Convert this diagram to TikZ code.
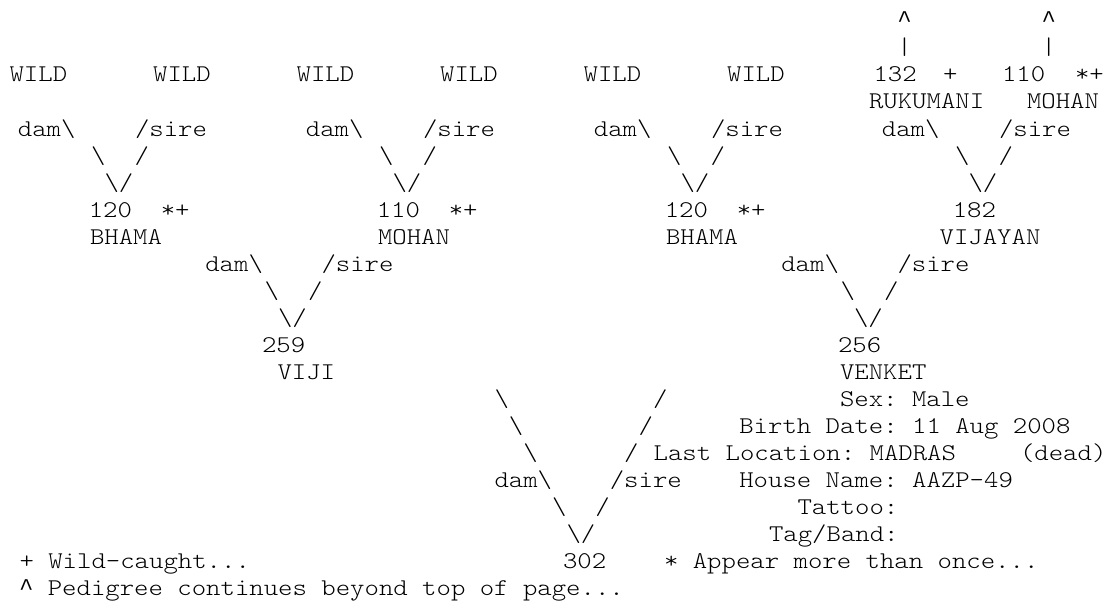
\documentclass[tikz,border=0pt]{standalone}
\usepackage{fontspec}
\newfontfamily\courfont{lmmonolt10-regular.otf}[FakeStretch=1.142857]
\newfontfamily\caretfont{Liberation Mono}
\newcommand\caret{{\caretfont\textasciicircum}}
\tikzset{txt/.style={font={\courfont\fontsize{18}{20}\selectfont\frenchspacing}, anchor=base west, inner sep=0pt, outer sep=0pt, text=black}}
\newcommand\txtat[4]{\node[txt] (#1) at ({#2},{27.8+27.05*#3}) {#4};}
\begin{document}
\begin{tikzpicture}[x=0.75pt,y=-0.75pt]
\useasboundingbox (0,0) rectangle (1113,608);
\fill[white] (0,0) rectangle (1113,608);
% line 0-1: continuation marks
\txtat{upA}{897.3}{0}{\caret}
\txtat{upB}{1041.5}{0}{\caret}
\txtat{barA}{897.3}{1}{|}
\txtat{barB}{1041.5}{1}{|}
% line 2: generation 3
\txtat{wildA}{9.6}{2}{WILD}
\txtat{wildB}{153.1}{2}{WILD}
\txtat{wildC}{296.6}{2}{WILD}
\txtat{wildD}{440.1}{2}{WILD}
\txtat{wildE}{583.6}{2}{WILD}
\txtat{wildF}{727.1}{2}{WILD}
\txtat{idRuk}{873.5}{2}{132}
\txtat{flRuk}{943}{2}{+}
\txtat{idMohTop}{1002}{2}{110}
\txtat{flMohTop}{1075}{2}{*+}
% line 3
\txtat{nmRuk}{869}{3}{RUKUMANI}
\txtat{nmMohTop}{1027}{3}{MOHAN}
% line 4-6: dam/sire joins, generation 3 to 2
\txtat{damA}{17.9}{4}{dam\textbackslash}
\txtat{damB}{305.9}{4}{dam\textbackslash}
\txtat{damC}{593.9}{4}{dam\textbackslash}
\txtat{damD}{881.9}{4}{dam\textbackslash}
\txtat{sireA}{135}{4}{/sire}
\txtat{sireB}{423}{4}{/sire}
\txtat{sireC}{711}{4}{/sire}
\txtat{sireD}{999}{4}{/sire}
\txtat{bsA}{91}{5}{\textbackslash}
\txtat{bsB}{379}{5}{\textbackslash}
\txtat{bsC}{667}{5}{\textbackslash}
\txtat{bsD}{955}{5}{\textbackslash}
\txtat{slA}{134.7}{5}{/}
\txtat{slB}{422.7}{5}{/}
\txtat{slC}{710.7}{5}{/}
\txtat{slD}{998.7}{5}{/}
\txtat{vA}{104.5}{6}{\textbackslash/}
\txtat{vB}{392.5}{6}{\textbackslash/}
\txtat{vC}{680.5}{6}{\textbackslash/}
\txtat{vD}{968.5}{6}{\textbackslash/}
% line 7-8: generation 2
\txtat{idBhamaA}{88.8}{7}{120}
\txtat{idMohan}{376.8}{7}{110}
\txtat{idBhamaB}{664.8}{7}{120}
\txtat{idVij}{952.8}{7}{182}
\txtat{flBhamaA}{160.8}{7}{*+}
\txtat{flMohan}{448.8}{7}{*+}
\txtat{flBhamaB}{736.8}{7}{*+}
\txtat{nmBhamaA}{90}{8}{BHAMA}
\txtat{nmMohan}{378}{8}{MOHAN}
\txtat{nmBhamaB}{666}{8}{BHAMA}
\txtat{nmVij}{939.6}{8}{VIJAYAN}
% line 9-11: joins, generation 2 to 1
\txtat{damL}{205.3}{9}{dam\textbackslash}
\txtat{sireL}{321.5}{9}{/sire}
\txtat{damR}{781.3}{9}{dam\textbackslash}
\txtat{sireR}{897.5}{9}{/sire}
\txtat{bsL}{264.7}{10}{\textbackslash}
\txtat{slL}{308}{10}{/}
\txtat{bsR}{840.7}{10}{\textbackslash}
\txtat{slR}{884}{10}{/}
\txtat{vL}{278}{11}{\textbackslash/}
\txtat{vR}{854}{11}{\textbackslash/}
% line 12-13: generation 1
\txtat{idViji}{262}{12}{259}
\txtat{idVenket}{838}{12}{256}
\txtat{nmViji}{277.5}{13}{VIJI}
\txtat{nmVenket}{840}{13}{VENKET}
% line 14-19: big join and details
\txtat{bsM1}{494.5}{14}{\textbackslash}
\txtat{slM1}{653}{14}{/}
\txtat{sex}{840}{14}{Sex: Male}
\txtat{bsM2}{508.9}{15}{\textbackslash}
\txtat{slM2}{638.6}{15}{/}
\txtat{birth}{739.3}{15}{Birth Date: 11 Aug 2008}
\txtat{bsM3}{523.3}{16}{\textbackslash}
\txtat{slM3}{624.2}{16}{/}
\txtat{loc}{653.6}{16}{Last Location: MADRAS}
\txtat{dead}{1020}{16}{(dead)}
\txtat{damM}{494.5}{17}{dam\textbackslash}
\txtat{sireM}{609.8}{17}{/sire}
\txtat{house}{739.3}{17}{House Name: AAZP-49}
\txtat{bsM5}{552.1}{18}{\textbackslash}
\txtat{slM5}{595.4}{18}{/}
\txtat{tattoo}{797.5}{18}{Tattoo:}
\txtat{vM}{566.5}{19}{\textbackslash/}
\txtat{tag}{769}{19}{Tag/Band:}
% line 20-21: subject and legend
\txtat{wildNote}{19.5}{20}{+ Wild-caught...}
\txtat{idSubj}{563}{20}{302}
\txtat{appearNote}{664}{20}{* Appear more than once...}
\txtat{pedNote}{19}{21}{\caret{} Pedigree continues beyond top of page...}
\end{tikzpicture}
\end{document}
